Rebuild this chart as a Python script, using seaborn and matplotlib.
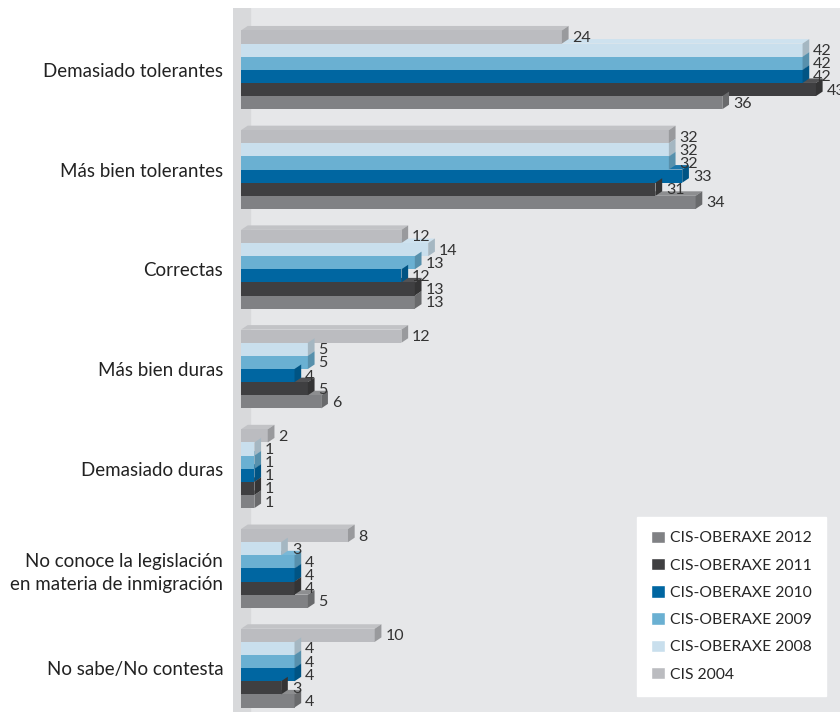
import numpy as np
import pandas as pd
import matplotlib
matplotlib.use("Agg")
import matplotlib.pyplot as plt
from matplotlib.patches import Polygon, Patch
import seaborn as sns

categories = ["Demasiado tolerantes", "Más bien tolerantes", "Correctas",
              "Más bien duras", "Demasiado duras",
              "No conoce la legislación\nen materia de inmigración",
              "No sabe/No contesta"]
series = ["CIS 2004", "CIS-OBERAXE 2008", "CIS-OBERAXE 2009",
          "CIS-OBERAXE 2010", "CIS-OBERAXE 2011", "CIS-OBERAXE 2012"]
v2004 = [24, 32, 12, 12, 2, 8, 10]
v2008 = [42, 32, 14, 5, 1, 3, 4]
v2009 = [42, 32, 13, 5, 1, 4, 4]
v2010 = [42, 33, 12, 4, 1, 4, 4]
v2011 = [43, 31, 13, 5, 1, 4, 3]
v2012 = [36, 34, 13, 6, 1, 5, 4]
colors = ["#bbbcc0", "#c9dfed", "#6ab0d2", "#0066a1", "#3f3f41", "#808184"]

values = [v2004, v2008, v2009, v2010, v2011, v2012]
rows = []
for s, vals in zip(series, values):
    for c, v in zip(categories, vals):
        rows.append({"cat": c, "serie": s, "val": v})
df = pd.DataFrame(rows)

sns.set_theme(style="white")
plt.rcParams["font.family"] = ["Lato", "DejaVu Sans"]

fig = plt.figure(figsize=(8.4, 7.18), dpi=100)
fig.patch.set_facecolor("white")
ax = fig.add_axes([233 / 840, 1 - 712 / 718, 1 - 233 / 840, (712 - 8) / 718])
ax.set_facecolor("#e6e7e9")

sns.barplot(data=df, y="cat", x="val", hue="serie", order=categories,
            hue_order=series, palette=colors, orient="h", width=0.79,
            saturation=1, ax=ax, legend=False, edgecolor="none")
bars = list(ax.patches)

xmin = -0.6
ax.set_xlim(xmin, 44.8)
ax.set_ylim(6.44, -0.62)
ax.axvspan(xmin, 0.7, color="#d8d9db", zorder=0)

dx, dy = 0.5, 0.045
for patch in bars:
    x0 = patch.get_x()
    w = patch.get_width()
    y0 = patch.get_y()
    h = patch.get_height()
    x1 = x0 + w
    fc = patch.get_facecolor()
    side = tuple(np.clip(np.array(fc[:3]) * 0.82, 0, 1))
    top = tuple(np.clip(np.array(fc[:3]) * 0.9 + 0.1, 0, 1))
    ax.add_patch(Polygon([(x0, y0), (x0 + dx, y0 - dy), (x1 + dx, y0 - dy), (x1, y0)],
                         closed=True, facecolor=top, edgecolor="none", zorder=patch.get_zorder() - 0.1))
    ax.add_patch(Polygon([(x1, y0), (x1 + dx, y0 - dy), (x1 + dx, y0 + h - dy), (x1, y0 + h)],
                         closed=True, facecolor=side, edgecolor="none", zorder=patch.get_zorder() + 0.1))
    ax.text(x1 + dx + 0.3, y0 + h / 2 + 0.01, f"{int(round(w))}", va="center", ha="left",
            fontsize=11.5, color="#333333", zorder=5)

ax.set_xlabel("")
ax.set_ylabel("")
ax.set_xticks([])
ax.tick_params(axis="y", length=0, pad=7, labelsize=13.5, labelcolor="#222222")
for lab in ax.get_yticklabels():
    lab.set_horizontalalignment("right")
    lab.set_multialignment("right")
    lab.set_linespacing(1.45)
for sp in ax.spines.values():
    sp.set_visible(False)

handles = [Patch(facecolor=c, label=s) for s, c in zip(series, colors)][::-1]
leg = ax.legend(handles=handles, loc="lower right", bbox_to_anchor=(0.99, 0.012),
                frameon=True, fancybox=False, framealpha=1, edgecolor="white",
                facecolor="white", fontsize=11.3, handlelength=0.85, handleheight=0.85,
                handletextpad=0.35, labelspacing=0.8, borderpad=0.9)

fig.savefig("out.png", dpi=100, facecolor="white")
